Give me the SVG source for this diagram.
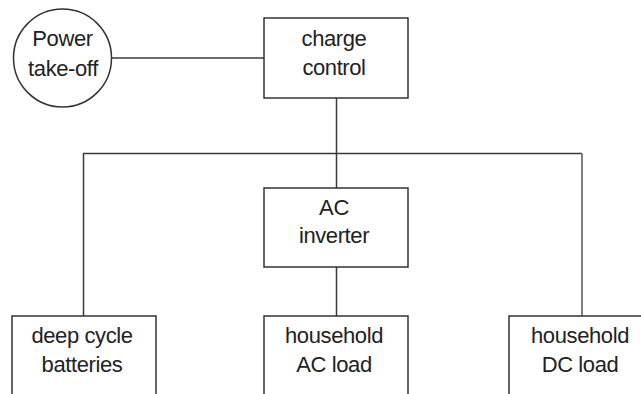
<svg xmlns="http://www.w3.org/2000/svg" width="641" height="394" viewBox="0 0 641 394">
<style>
.box{fill:#fff;stroke:#333;stroke-width:1.5}
.lbl{font-family:"Liberation Sans",Arial,sans-serif;font-size:22px;letter-spacing:-0.4px;fill:#222;text-anchor:middle}
.wire{stroke:#3a3a3a;stroke-width:1.5;fill:none}
</style>
<rect width="641" height="394" fill="#fff"/>
<g id="connectors">
<line class="wire" x1="112" y1="58" x2="264" y2="58"/>
<line class="wire" x1="336.5" y1="98" x2="336.5" y2="188"/>
<polyline class="wire" points="83.5,316 83.5,153.5 582,153.5" stroke="#4a4a4a"/>
<line x1="582" y1="153.5" x2="582" y2="316" stroke="#808080" stroke-width="2"/>
<line class="wire" x1="336.5" y1="267" x2="336.5" y2="316"/>
</g>
<g id="power-takeoff">
<circle class="box" cx="62.5" cy="58" r="49"/>
<text class="lbl" x="62.5" y="46">Power</text>
<text class="lbl" x="63" y="76">take-off</text>
</g>
<g id="charge-control">
<rect class="box" x="264" y="18" width="144" height="80"/>
<text class="lbl" x="334" y="46">charge</text>
<text class="lbl" x="334" y="75">control</text>
</g>
<g id="ac-inverter">
<rect class="box" x="264" y="188" width="144" height="79"/>
<text class="lbl" x="334" y="215">AC</text>
<text class="lbl" x="334" y="243">inverter</text>
</g>
<g id="deep-cycle-batteries">
<rect class="box" x="12" y="316" width="144" height="100"/>
<text class="lbl" x="82" y="343">deep cycle</text>
<text class="lbl" x="82" y="372">batteries</text>
</g>
<g id="household-ac-load">
<rect class="box" x="264" y="316" width="144" height="100"/>
<text class="lbl" x="334" y="343">household</text>
<text class="lbl" x="334" y="372">AC load</text>
</g>
<g id="household-dc-load">
<rect class="box" x="509" y="316" width="144" height="100"/>
<text class="lbl" x="580" y="343">household</text>
<text class="lbl" x="580" y="372">DC load</text>
</g>
</svg>
